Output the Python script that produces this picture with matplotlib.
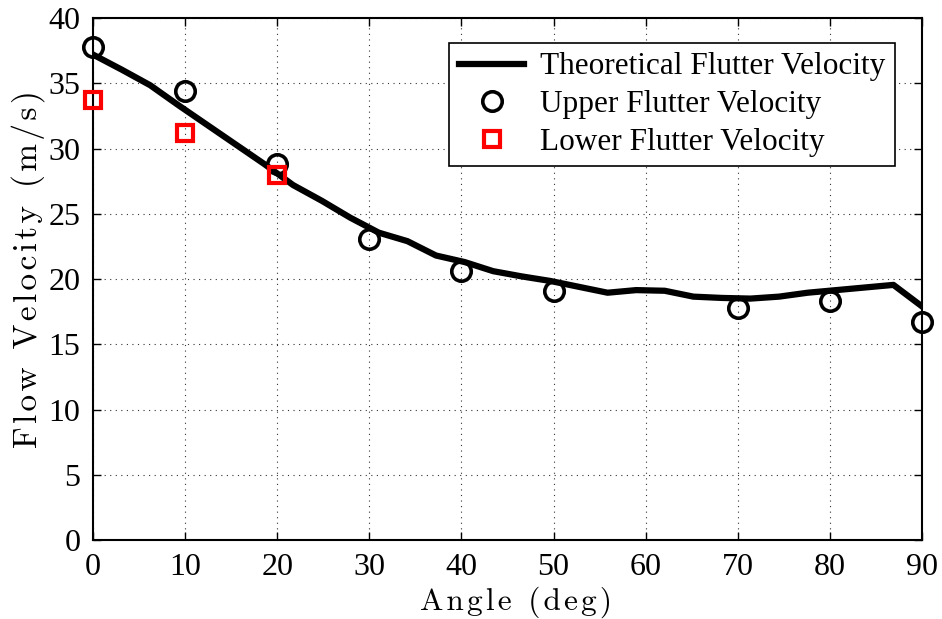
import numpy as np
import matplotlib
matplotlib.use("Agg")
import matplotlib.pyplot as plt

# theoretical curve, 30 evenly spaced angles 0..90
theory_angle = np.linspace(0, 90, 30)
theory_vel = [37.2, 36.05, 34.85, 33.3, 31.8, 30.3, 28.8, 27.2, 26.0, 24.7,
              23.55, 22.9, 21.8, 21.3, 20.6, 20.2, 19.85, 19.4, 18.95, 19.15,
              19.1, 18.65, 18.55, 18.5, 18.65, 18.95, 19.15, 19.35, 19.55, 17.9]

upper_angle = [0, 10, 20, 30, 40, 50, 70, 80, 90]
upper_vel = [37.8, 34.4, 28.8, 23.1, 20.6, 19.05, 17.75, 18.35, 16.7]

lower_angle = [0, 10, 20]
lower_vel = [33.7, 31.2, 28.0]

plt.rcParams['font.family'] = ['Liberation Serif', 'DejaVu Serif']

def spaced(s):
    # hair space between letters, like the latex-ish labels of the original
    return "\u200a".join(s)

fig = plt.figure(figsize=(9.42, 6.19), dpi=100)
ax = fig.add_axes([0.0987, 0.1276, 0.8801, 0.8433])

ax.plot(theory_angle, theory_vel, "k-", lw=4.5, label="Theoretical Flutter Velocity", zorder=3)
ax.plot(upper_angle, upper_vel, "o", ms=14, mfc="none", mec="k", mew=2.6,
        label="Upper Flutter Velocity", zorder=4, clip_on=False)
ax.plot(lower_angle, lower_vel, "s", ms=11, mfc="none", mec="#ff0000", mew=3,
        label="Lower Flutter Velocity", zorder=4, clip_on=False)

ax.set_xlim(0, 90)
ax.set_ylim(0, 40)
ax.set_xticks(np.arange(0, 91, 10))
ax.set_yticks(np.arange(0, 41, 5))
ax.grid(True, linestyle=(0, (1, 4)), color="k", lw=0.8, alpha=0.8)
ax.tick_params(direction="in", top=True, right=True, length=6, width=1,
               labelsize=23)
ax.tick_params(axis="x", pad=9)
ax.tick_params(axis="y", pad=9)
for s in ax.spines.values():
    s.set_linewidth(1.5)

ax.set_xlabel(spaced("Angle (deg)"), family=["cmr10", "DejaVu Serif"], fontsize=22.5)
ax.set_ylabel(spaced("Flow Velocity (m/s)"), family=["cmr10", "DejaVu Serif"], fontsize=24)
ax.xaxis.set_label_coords(0.51, -0.09)
ax.yaxis.set_label_coords(-0.058, 0.52)

leg = ax.legend(loc="upper right", bbox_to_anchor=(0.967, 0.952), fancybox=False,
                edgecolor="k", framealpha=1, borderpad=0.3, labelspacing=0.28,
                handlelength=2.1, handletextpad=0.5, borderaxespad=0,
                prop={"size": 22.5})
leg.get_frame().set_linewidth(1.2)

fig.savefig("out.png", dpi=100)
